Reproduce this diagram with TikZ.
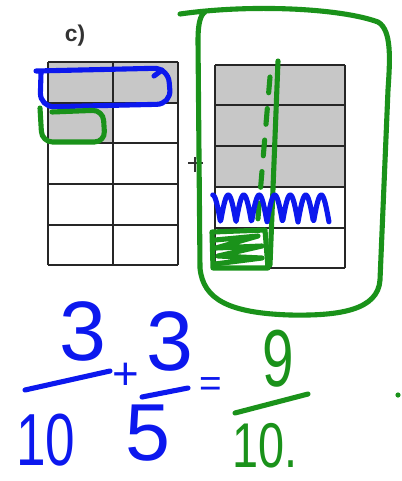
\documentclass[tikz,border=0pt]{standalone}
\usepackage{fontspec}
\usepackage{graphicx}
\setmainfont{Liberation Sans}
\definecolor{penblue}{RGB}{12,24,238}
\definecolor{pengreen}{RGB}{26,146,26}
\newcommand{\numsize}[1]{\fontsize{#1}{#1}\selectfont}
\newcommand{\narrow}[2]{\scalebox{#1}[1]{#2}}

\tikzset{
  pen/.style={line width=2.9pt,line cap=round,line join=round},
  bluepen/.style={pen,draw=penblue},
  greenpen/.style={pen,draw=pengreen},
  cell/.style={draw=black!85,line width=.7pt},
  shade/.style={fill=black!22},
  bluenum/.style={text=penblue,inner sep=0pt},
  greennum/.style={text=pengreen,inner sep=0pt}
}

\begin{document}
\begin{tikzpicture}[x=0.02cm,y=-0.02cm]
  \useasboundingbox[fill=white] (0,0) rectangle (402,481);
  \node[text=black!80,font=\bfseries\numsize{13}] (label) at (75,36) {c)};
  \fill[shade] (48,62) rectangle (178,103);
  \fill[shade] (48,103) rectangle (113,143);
  \foreach \y in {62,103,143,184,225,265} \draw[cell] (48,\y) -- (178,\y);
  \foreach \x in {48,113,178} \draw[cell] (\x,62) -- (\x,265);
  \fill[shade] (215,65) rectangle (345,187);
  \foreach \y in {65,105,146,187,228,268} \draw[cell] (215,\y) -- (345,\y);
  \foreach \x in {215,345} \draw[cell] (\x,65) -- (\x,268);
  \draw[black!80,line width=.6pt] (188,163) -- (203,163) (195,157) -- (195,172);
  \draw[bluepen,rounded corners=8] (36,71) -- (168,68) -- (171,104) -- (40,107) -- (41,73);
  \draw[bluepen] (154,76) -- (162,70);
  \draw[greenpen,rounded corners=6] (52,112) -- (103,110) -- (105,142) -- (42,142) -- (40,108);
  \draw[greenpen] (180,14) .. controls (250,4) and (340,8) .. (378,22)
    .. controls (392,30) and (390,60) .. (388,90) -- (380,280)
    .. controls (378,310) and (340,316) .. (290,315)
    .. controls (230,313) and (203,300) .. (200,268) -- (198,40)
    .. controls (198,25) and (200,15) .. (205,12);
  \draw[greenpen] (278,61) -- (270,265);
  \draw[greenpen,dash pattern=on 9pt off 9pt] (270,77) -- (257,230);
  \draw[bluepen] plot[domain=0.5:8,samples=200] ({205+\x*15.5},{222-27*abs(sin(\x*180))});
  \draw[greenpen] (212,232) -- (265,230) -- (268,268) -- (213,268) -- cycle;
  \draw[greenpen] (215,240) -- (258,236) -- (216,248) -- (262,246) -- (218,256) -- (262,258) -- (215,264);
  \node[bluenum,font=\numsize{48}] (num1) at (83,331) {3};
  \node[bluenum,font=\numsize{42}] (den1) at (46,440) {\narrow{.72}{10}};
  \node[bluenum,font=\numsize{26}] (plus) at (126,376) {+};
  \node[bluenum,font=\numsize{48}] (num2) at (170,341) {3};
  \node[bluenum,font=\numsize{46}] (den2) at (148,433) {5};
  \node[bluenum,font=\numsize{22}] (equals) at (211,387) {=};
  \node[greennum,font=\numsize{46}] (num3) at (278,359) {\narrow{.7}{9}};
  \node[greennum,font=\numsize{36}] (den3) at (265,446) {\narrow{.74}{10.}};
  \draw[bluepen] (25,390) -- (110,371);
  \draw[bluepen] (142,397) -- (188,388);
  \draw[greenpen] (235,413) -- (308,394);
  \fill[pengreen] (398,395) circle (2.6);
\end{tikzpicture}
\end{document}
